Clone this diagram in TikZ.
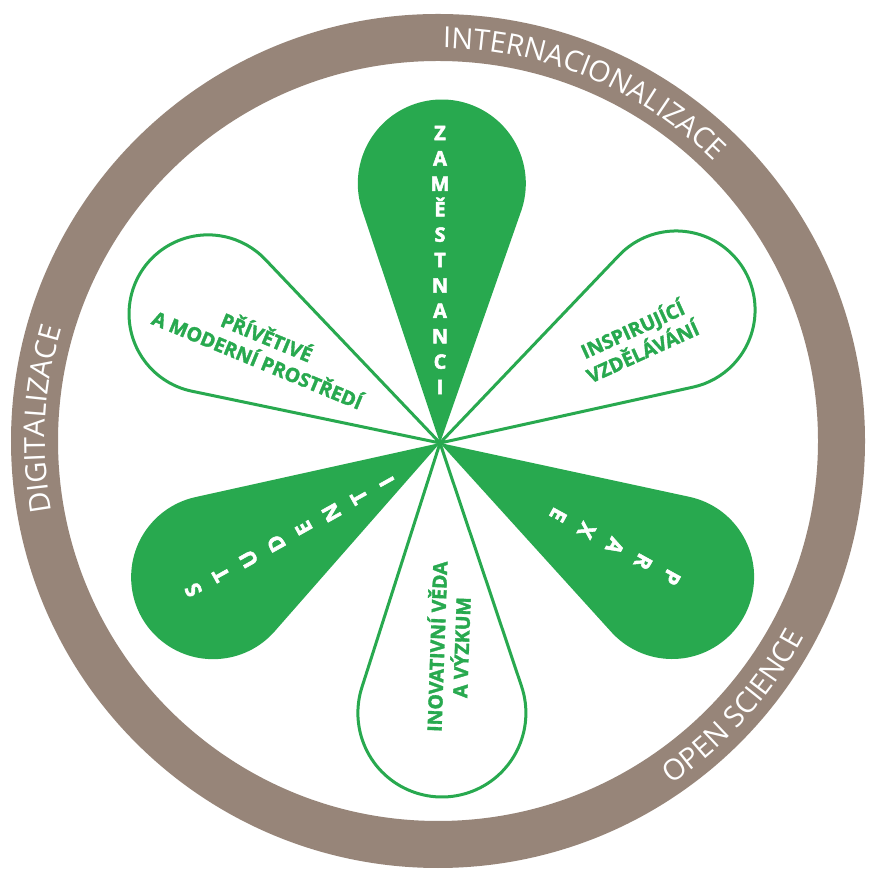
\documentclass[tikz,border=0pt]{standalone}
\usepackage{fontspec}
\setmainfont{Open Sans}
\newfontfamily\ringfont{Open Sans}
\newfontfamily\heavyfont[BoldFeatures={FakeBold=1.8}]{Open Sans}
\newfontfamily\stackfont[BoldFeatures={FakeBold=2.5}]{Open Sans}
\usetikzlibrary{decorations.text,calc}
\definecolor{ringbrown}{HTML}{978579}
\definecolor{leafgreen}{HTML}{28A94F}
\newcommand\drawleaf[4]{%
  \pgfmathsetmacro\leafb{acos(#4/#3)}%
  \begin{scope}[shift={(hub)}, rotate=#2]
    \path[#1] (0,0) -- ({#3+#4*cos(180-\leafb)},{#4*sin(180-\leafb)})
      arc[start angle={180-\leafb}, end angle={\leafb-180}, radius=#4pt] -- cycle;
  \end{scope}}
\begin{document}
\begin{tikzpicture}[x=1pt,y=1pt,
  filledpetal/.style={fill=leafgreen},
  outlinepetal/.style={draw=leafgreen, line width=3pt, line join=round},
  stackletter/.style={text=white, font=\stackfont\bfseries\fontsize{20}{20}\selectfont, inner sep=0pt, text height=14.3pt, text depth=0pt},
  bigletter/.style={stackletter, font=\stackfont\bfseries\fontsize{21.5}{21.5}\selectfont, text height=15.4pt},
  petaltext/.style={text=leafgreen, font=\heavyfont\bfseries\fontsize{19.5}{24.5}\selectfont, align=center, inner sep=0pt},
  ringtext/.style={decorate, decoration={text along path, text color=white, text align=center, text={|\ringfont\fontsize{29}{29}\selectfont|#1}}}
]
\path[use as bounding box, fill=white] (0,0) rectangle (868,874);
\coordinate (ringc) at (438,433);
\coordinate (hub) at (440,431);
% ring
\draw[ringbrown, line width=47pt] (ringc) circle[radius=403.5pt];
\path[ringtext=INTERNACIONALIZACE] (ringc) ++(107.3:393) arc[start angle=107.3, end angle=27.3, radius=393pt];
\path[ringtext=DIGITALIZACE] (ringc) ++(216.8:393) arc[start angle=216.8, end angle=136.8, radius=393pt];
\path[ringtext=OPEN SCIENCE] (ringc) ++(-82:415) arc[start angle=-82, end angle=-2, radius=415pt];
% petals
\drawleaf{filledpetal}{89.6}{259.5}{84}
\drawleaf{filledpetal}{210.6}{263.6}{82}
\drawleaf{filledpetal}{-30}{268}{82}
\drawleaf{outlinepetal}{29.4}{271}{79}
\drawleaf{outlinepetal}{150.9}{265.5}{79}
\drawleaf{outlinepetal}{-89.6}{270}{84}
% stacked letters
\coordinate (zs) at (440,741);
\coordinate (ze) at (440,487);
\foreach \ch [count=\i from 0] in {Z,A,M,Ě,S,T,N,A,N,C,I}
  \node[stackletter] (zam\i) at ($(zs)!\i/10!(ze)$) {\ch};
\coordinate (ss) at (193.3,284);
\coordinate (se) at (386.7,392.3);
\foreach \ch [count=\i from 0] in {S,T,U,D,E,N,T,I}
  \node[bigletter, rotate=119.25] (stu\i) at ($(ss)!\i/7!(se)$) {\ch};
\coordinate (ps) at (671.7,296.7);
\coordinate (pe) at (558.3,359);
\foreach \ch [count=\i from 0] in {P,R,A,X,E}
  \node[bigletter, rotate=-118.8] (pra\i) at ($(ps)!\i/4!(pe)$) {\ch};
% outline petal texts
\node[petaltext, rotate=-22.5] (prostredi) at (262.7,526.8) {PŘÍVĚTIVÉ\\A MODERNÍ PROSTŘEDÍ};
\node[petaltext, rotate=24.4] (vzdelavani) at (637,534.8) {INSPIRUJÍCÍ\\VZDĚLÁVÁNÍ};
\node[petaltext, rotate=88] (veda) at (447.7,227) {INOVATIVNÍ VĚDA\\A VÝZKUM};
\end{tikzpicture}
\end{document}
